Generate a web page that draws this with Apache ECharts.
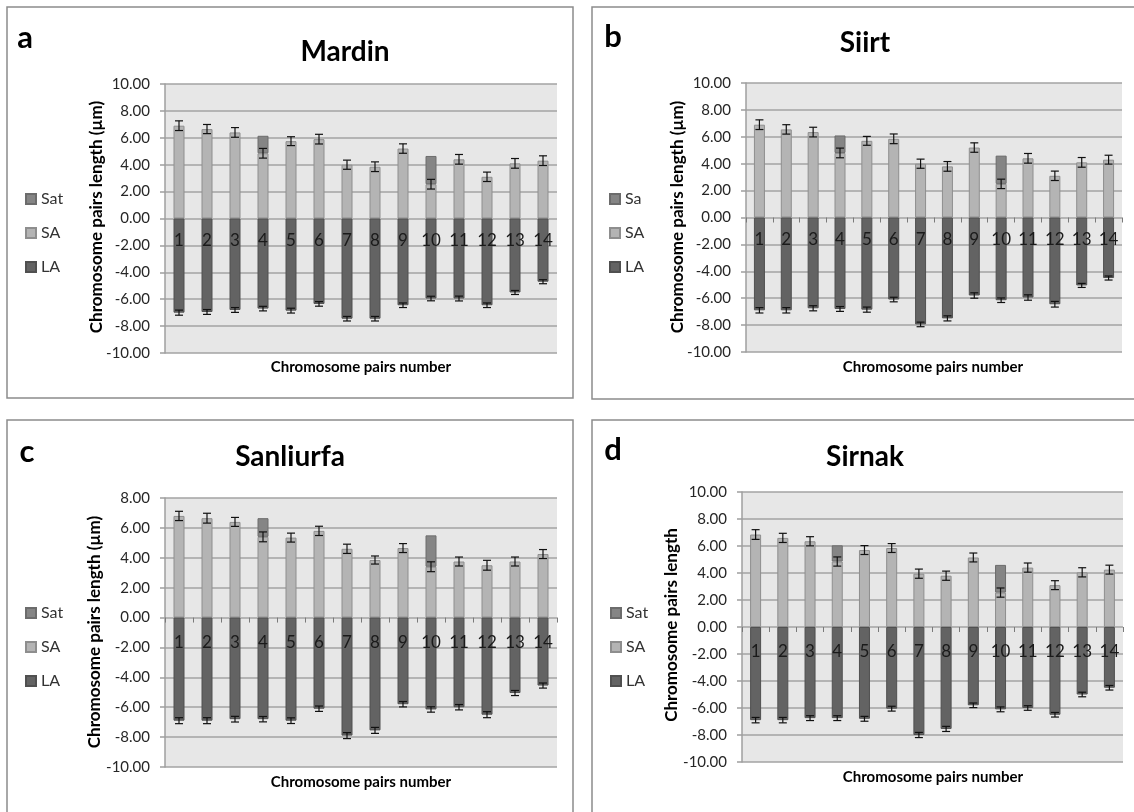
<!DOCTYPE html>
<html><head><meta charset="utf-8">
<script src="https://cdn.jsdelivr.net/npm/echarts@6/dist/echarts.min.js"></script>
<style>html,body{margin:0;padding:0;background:#fff}#c{width:1134px;height:812px}</style>
</head><body><div id="c"></div>
<script>
const categories = ['1','2','3','4','5','6','7','8','9','10','11','12','13','14'];
const yTicks = { min: -10, maxA: 10, maxC: 8, interval: 2 };

// Mardin
const mardinSA  = [6.9, 6.65, 6.4, 4.85, 5.75, 5.9, 4.0, 3.85, 5.2, 2.55, 4.4, 3.1, 4.1, 4.3];
const mardinSat = ['-', '-', '-', 1.3, '-', '-', '-', '-', '-', 2.1, '-', '-', '-', '-'];
const mardinLA  = [-7.0, -6.95, -6.8, -6.7, -6.85, -6.35, -7.45, -7.45, -6.45, -5.95, -5.95, -6.45, -5.5, -4.7];
const mardinSAerr = [0.36, 0.34, 0.36, 0.36, 0.33, 0.36, 0.34, 0.36, 0.35, 0.36, 0.36, 0.35, 0.36, 0.36];
const mardinLAerr = [0.19, 0.18, 0.18, 0.17, 0.18, 0.17, 0.17, 0.17, 0.17, 0.17, 0.18, 0.17, 0.15, 0.15];

// Siirt
const siirtSA  = [6.9, 6.55, 6.35, 4.8, 5.7, 5.85, 4.0, 3.8, 5.2, 2.5, 4.4, 3.1, 4.1, 4.3];
const siirtSa  = ['-', '-', '-', 1.3, '-', '-', '-', '-', '-', 2.1, '-', '-', '-', '-'];
const siirtLA  = [-6.9, -6.9, -6.75, -6.8, -6.85, -6.1, -7.95, -7.5, -5.8, -6.15, -5.95, -6.45, -5.05, -4.5];
const siirtSAerr = [0.36, 0.35, 0.36, 0.36, 0.33, 0.36, 0.34, 0.36, 0.35, 0.35, 0.36, 0.35, 0.36, 0.33];
const siirtLAerr = [0.2, 0.2, 0.19, 0.18, 0.19, 0.17, 0.17, 0.19, 0.2, 0.17, 0.2, 0.21, 0.15, 0.15];

// Sanliurfa
const sanliurfaSA  = [6.8, 6.65, 6.4, 5.4, 5.35, 5.8, 4.6, 3.85, 4.65, 3.4, 3.75, 3.5, 3.75, 4.25];
const sanliurfaSat = ['-', '-', '-', 1.25, '-', '-', '-', '-', '-', 2.1, '-', '-', '-', '-'];
const sanliurfaLA  = [-6.9, -6.9, -6.8, -6.8, -6.9, -6.1, -7.9, -7.55, -5.8, -6.15, -6.0, -6.5, -5.05, -4.55];
const sanliurfaSAerr = [0.31, 0.33, 0.3, 0.33, 0.3, 0.31, 0.31, 0.27, 0.3, 0.33, 0.3, 0.33, 0.3, 0.3];
const sanliurfaLAerr = [0.2, 0.2, 0.19, 0.18, 0.19, 0.18, 0.2, 0.2, 0.18, 0.18, 0.18, 0.2, 0.17, 0.17];

// Sirnak
const sirnakSA  = [6.85, 6.6, 6.35, 4.85, 5.7, 5.85, 3.95, 3.8, 5.15, 2.55, 4.4, 3.1, 4.05, 4.25];
const sirnakSat = ['-', '-', '-', 1.2, '-', '-', '-', '-', '-', 2.05, '-', '-', '-', '-'];
const sirnakLA  = [-6.9, -6.9, -6.75, -6.75, -6.8, -6.05, -8.0, -7.55, -5.8, -6.1, -6.0, -6.5, -5.0, -4.5];
const sirnakSAerr = [0.36, 0.34, 0.34, 0.34, 0.33, 0.33, 0.34, 0.34, 0.33, 0.34, 0.34, 0.33, 0.34, 0.33];
const sirnakLAerr = [0.2, 0.2, 0.18, 0.18, 0.18, 0.18, 0.19, 0.19, 0.17, 0.18, 0.17, 0.17, 0.17, 0.17];

const FONT = 'Lato';
const C_SA = '#b4b4b4', C_SAT = '#858585', C_LA = '#636363';

const panels = [
  { letter: 'a', title: 'Mardin', satName: 'Sat', sa: mardinSA, sat: mardinSat, la: mardinLA, saErr: mardinSAerr, laErr: mardinLAerr,
    max: yTicks.maxA, ticks: false, labelMargin: 14,
    grid: { left: 165, top: 84, width: 392, height: 269 }, border: [7, 7, 566, 391],
    letterPos: [25, 38], titlePos: [345, 52], yTitle: 'Chromosome pairs length (µm)', yTitlePos: [97, 217], xTitlePos: [361, 367],
    legend: [25, 191] },
  { letter: 'b', title: 'Siirt', satName: 'Sa', sa: siirtSA, sat: siirtSa, la: siirtLA, saErr: siirtSAerr, laErr: siirtLAerr,
    max: yTicks.maxA, ticks: true, labelMargin: 14,
    grid: { left: 746, top: 83, width: 376, height: 269 }, border: [592, 7, 560, 392],
    letterPos: [613, 37], titlePos: [865, 43], yTitle: 'Chromosome pairs length (µm)', yTitlePos: [678, 217], xTitlePos: [933, 367],
    legend: [609, 191] },
  { letter: 'c', title: 'Sanliurfa', satName: 'Sat', sa: sanliurfaSA, sat: sanliurfaSat, la: sanliurfaLA, saErr: sanliurfaSAerr, laErr: sanliurfaLAerr,
    max: yTicks.maxC, ticks: true, labelMargin: 16,
    grid: { left: 165, top: 498, width: 392, height: 269 }, border: [7, 420, 566, 400],
    letterPos: [27, 452], titlePos: [290, 457], yTitle: 'Chromosome pairs length (µm)', yTitlePos: [95, 632], xTitlePos: [361, 782],
    legend: [25, 605] },
  { letter: 'd', title: 'Sirnak', satName: 'Sat', sa: sirnakSA, sat: sirnakSat, la: sirnakLA, saErr: sirnakSAerr, laErr: sirnakLAerr,
    max: yTicks.maxA, ticks: true, labelMargin: 16,
    grid: { left: 742, top: 492, width: 381, height: 270 }, border: [592, 420, 560, 400],
    letterPos: [613, 450], titlePos: [865, 457], yTitle: 'Chromosome pairs length', yTitlePos: [672, 625], xTitlePos: [933, 777],
    legend: [610, 605] }
];

function errRender(params, api) {
  const x = api.value(0), v = api.value(1), e = api.value(2);
  const hi = api.coord([x, v + e]);
  const lo = api.coord([x, v - e]);
  const hw = 4;
  const style = { stroke: '#111', lineWidth: 1.2 };
  return { type: 'group', children: [
    { type: 'line', shape: { x1: hi[0], y1: hi[1], x2: lo[0], y2: lo[1] }, style: style },
    { type: 'line', shape: { x1: hi[0] - hw, y1: hi[1], x2: hi[0] + hw, y2: hi[1] }, style: style },
    { type: 'line', shape: { x1: lo[0] - hw, y1: lo[1], x2: lo[0] + hw, y2: lo[1] }, style: style }
  ]};
}

const grids = [], xAxes = [], yAxes = [], series = [], legends = [], graphics = [];
panels.forEach((p, i) => {
  grids.push(Object.assign({ show: true, backgroundColor: '#e7e7e7', borderWidth: 0 }, p.grid));
  // move the category axis up to the zero line of the value axis
  const zeroOffset = -p.grid.height * (0 - yTicks.min) / (p.max - yTicks.min);
  xAxes.push({
    type: 'category', gridIndex: i, data: categories, z: 6, position: 'bottom', offset: zeroOffset,
    axisLine: { show: true, onZero: false, lineStyle: { opacity: 0 } },
    axisTick: { show: p.ticks, length: 5, lineStyle: { color: '#7a7a7a', width: 1 } },
    axisLabel: { interval: 0, margin: p.labelMargin, fontFamily: FONT, fontSize: 17, color: '#1a1a1a' },
    splitLine: { show: false }
  });
  yAxes.push({
    type: 'value', gridIndex: i, min: yTicks.min, max: p.max, interval: yTicks.interval,
    axisLine: { show: true, lineStyle: { color: '#9f9f9f', width: 1.5 } },
    axisTick: { show: true, length: 5, lineStyle: { color: '#9f9f9f', width: 1.5 } },
    axisLabel: { margin: 15, fontFamily: FONT, fontSize: 15, color: '#262626', formatter: v => v.toFixed(2) },
    splitLine: { show: true, lineStyle: { color: '#a3a3a3', width: 1.5 } }
  });
  const stack = 'st' + i;
  series.push({ type: 'bar', name: 'SA', xAxisIndex: i, yAxisIndex: i, stack: stack, barWidth: 11, data: p.sa,
    itemStyle: { color: C_SA, borderColor: '#8e8e8e', borderWidth: 1 } });
  series.push({ type: 'bar', name: p.satName, xAxisIndex: i, yAxisIndex: i, stack: stack, barWidth: 11, data: p.sat,
    itemStyle: { color: C_SAT, borderColor: '#6c6c6c', borderWidth: 1 } });
  series.push({ type: 'bar', name: 'LA', xAxisIndex: i, yAxisIndex: i, stack: stack, barWidth: 11, data: p.la,
    itemStyle: { color: C_LA, borderColor: '#505050', borderWidth: 1 } });
  series.push({ type: 'custom', name: 'errSA' + i, xAxisIndex: i, yAxisIndex: i, z: 5, renderItem: errRender,
    encode: { x: 0, y: 1 }, data: p.sa.map((v, k) => [k, v, p.saErr[k]]) });
  series.push({ type: 'custom', name: 'errLA' + i, xAxisIndex: i, yAxisIndex: i, z: 5, renderItem: errRender,
    encode: { x: 0, y: 1 }, data: p.la.map((v, k) => [k, v, p.laErr[k]]) });
  legends.push({
    orient: 'vertical', left: p.legend[0], top: p.legend[1], padding: 0,
    data: [p.satName, 'SA', 'LA'], itemWidth: 10, itemHeight: 10, itemGap: 18, icon: 'rect',
    selectedMode: false,
    textStyle: { fontFamily: FONT, fontSize: 16, color: '#333', lineHeight: 15 }
  });
  graphics.push({ type: 'rect', shape: { x: p.border[0], y: p.border[1], width: p.border[2], height: p.border[3] },
    style: { fill: 'none', stroke: '#8c8c8c', lineWidth: 1.5 }, z: -10 });
  graphics.push({ type: 'text', x: p.letterPos[0], y: p.letterPos[1],
    style: { text: p.letter, font: 'bold 31px Lato', fill: '#000', align: 'center', verticalAlign: 'middle' } });
  graphics.push({ type: 'text', x: p.titlePos[0], y: p.titlePos[1],
    style: { text: p.title, font: 'bold 28px Lato', fill: '#000', align: 'center', verticalAlign: 'middle' } });
  graphics.push({ type: 'text', x: p.yTitlePos[0], y: p.yTitlePos[1], rotation: Math.PI / 2,
    style: { text: p.yTitle, font: 'bold 17px Lato', fill: '#000', align: 'center', verticalAlign: 'middle' } });
  graphics.push({ type: 'text', x: p.xTitlePos[0], y: p.xTitlePos[1],
    style: { text: 'Chromosome pairs number', font: 'bold 15px Lato', fill: '#000', align: 'center', verticalAlign: 'middle' } });
});

const chart = echarts.init(document.getElementById('c'), null, { renderer: 'canvas' });
chart.setOption({
  backgroundColor: '#fff',
  animation: false,
  grid: grids, xAxis: xAxes, yAxis: yAxes, series: series, legend: legends, graphic: graphics
});
</script></body></html>
